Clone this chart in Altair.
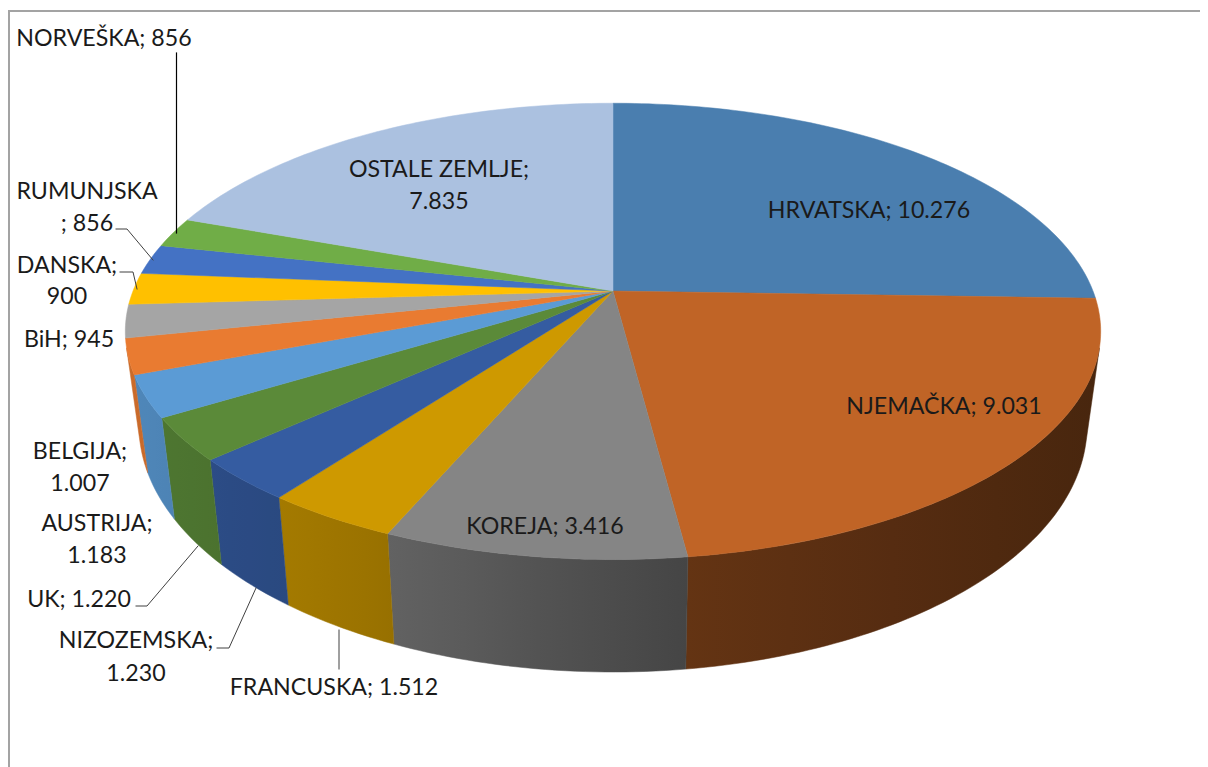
import numpy as np
import pandas as pd
import altair as alt

names = ["HRVATSKA", "NJEMAČKA", "KOREJA", "FRANCUSKA", "NIZOZEMSKA", "UK", "AUSTRIJA",
         "BELGIJA", "BiH", "DANSKA", "RUMUNJSKA", "NORVEŠKA", "OSTALE ZEMLJE"]
values = [10276, 9031, 3416, 1512, 1230, 1220, 1183, 1007, 945, 900, 856, 856, 7835]
colors = ["#4A7EAF", "#C06426", "#858585", "#CE9900", "#355CA1", "#5B8A39", "#5B9BD5",
          "#E97B31", "#A5A5A5", "#FFC000", "#4472C4", "#70AD47", "#ABC1E0"]

# one row per text line: label text and its centre on the page
label_lines = [
    "NORVEŠKA; 856", "RUMUNJSKA", "; 856", "DANSKA;", "900", "BiH; 945", "BELGIJA;", "1.007",
    "AUSTRIJA;", "1.183", "UK; 1.220", "NIZOZEMSKA;", "1.230", "FRANCUSKA; 1.512",
    "OSTALE ZEMLJE;", "7.835", "HRVATSKA; 10.276", "NJEMAČKA; 9.031", "KOREJA; 3.416",
]
label_x = [104, 87, 87, 67, 67, 69, 80, 80, 97, 97, 79, 136, 136, 334, 439, 439, 869, 944, 545]
label_y = [37, 190, 222, 264, 295, 338, 450, 482, 522, 554, 598, 639, 672, 686, 168, 200, 209, 405, 525]

W, H, OFF = 1192, 759, 8

# page geometry of the perspective disc
CX, CY, A, B, K = 613.0, 291.0, 480.0, 221.0, 0.177


def top_pt(t):
    u, v = np.sin(t), np.cos(t)
    w = 1 + K * v
    return CX + A * u / w, CY - B * v / w


def bot_pt(t):
    x, y = top_pt(t)
    return CX + 0.972 * (x - CX), 382 + 1.08 * (y - CY)


def silhouette(lo, hi, side):
    """Angle whose vertical wall edge is tangent to both rims (lies on the outline)."""
    grid = np.radians(np.arange(0, 360, 0.25))
    pts = np.array([top_pt(t) for t in grid] + [bot_pt(t) for t in grid])
    best, best_v = np.radians(lo), np.inf
    for t in np.radians(np.arange(lo, hi, 0.25)):
        p, q = np.array(top_pt(t)), np.array(bot_pt(t))
        d = q - p
        cross = d[0] * (pts[:, 1] - p[1]) - d[1] * (pts[:, 0] - p[0])
        viol = np.max(side * cross)
        if viol < best_v:
            best, best_v = t, viol
    return best


T_RIGHT = silhouette(85, 150, -1)
T_LEFT = silhouette(210, 290, 1)


def shade(color, x):
    f = float(np.interp(x, [135, 280, 388, 688, 1090], [0.87, 0.80, 0.74, 0.52, 0.38]))
    rgb = [int(color[i:i + 2], 16) for i in (1, 3, 5)]
    return "#%02x%02x%02x" % tuple(int(c * f) for c in rgb)


def feature(ring, fill=None):
    pts = [[float(x) - OFF, float(y) - OFF] for x, y in ring]
    pts.append(pts[0])
    return {"type": "Feature", "properties": {"fill": fill},
            "geometry": {"type": "Polygon", "coordinates": [pts]}}


edges = np.concatenate([[0], np.cumsum(values)]) / sum(values) * 2 * np.pi
PROJ = dict(type="identity", scale=1, translate=[0, 0])

wall_layers, tops = [], []
for i, c in enumerate(colors):
    t0, t1 = edges[i], edges[i + 1]
    ts = np.linspace(t0, t1, max(3, int((t1 - t0) / np.radians(1.0)) + 1))
    tops.append(feature([(CX, CY)] + [top_pt(t) for t in ts], c))
    w0, w1 = max(t0, T_RIGHT), min(t1, T_LEFT)
    if w1 <= w0:
        continue
    tw = np.linspace(w0, w1, max(3, int((w1 - w0) / np.radians(1.0)) + 1))
    ring = [top_pt(t) for t in tw] + [bot_pt(t) for t in tw[::-1]]
    xs_all = [p[0] for p in ring]
    x0, x1 = min(xs_all), max(xs_all)
    stops = [alt.GradientStop(offset=o, color=shade(c, x0 + o * (x1 - x0))) for o in (0, 0.25, 0.5, 0.75, 1)]
    grad = alt.LinearGradient(gradient="linear", x1=0, x2=1, y1=0, y2=0, stops=stops)
    layer = alt.Chart(alt.Data(values=[feature(ring)])).mark_geoshape(
        fill=grad, stroke=grad, strokeWidth=0.5).project(**PROJ)
    wall_layers.append(layer)

disc = alt.Chart(alt.Data(values=tops)).mark_geoshape(strokeWidth=0.5).encode(
    color=alt.Color("properties.fill:N", scale=None),
    stroke=alt.Stroke("properties.fill:N", scale=None),
).project(**PROJ)

xs = alt.Scale(domain=[0, W], range=[0, W], nice=False, zero=False)
ys = alt.Scale(domain=[0, H], range=[0, H], nice=False, zero=False)

# frame and leader lines
paths = [
    ("frame_l", "#A3A3A3", 2, [(9, 767), (9, 11)]),
    ("frame_t", "#A3A3A3", 2, [(9, 11), (1200, 11)]),
    ("nor", "#000000", 1.2, [(176.5, 53), (176.5, 233)]),
    ("rum", "#404040", 1, [(116, 229), (127, 229), (153, 260)]),
    ("dan", "#404040", 1, [(120, 272), (133, 272), (137, 289)]),
    ("uk", "#404040", 1, [(136, 606), (147, 606), (198, 546)]),
    ("niz", "#404040", 1, [(217, 648), (229, 648), (256, 588)]),
    ("fra", "#404040", 1, [(339, 630), (339, 669)]),
]
rows = []
for pid, col, sw, pts in paths:
    for j, (x, y) in enumerate(pts):
        rows.append({"id": pid, "col": col, "sw": sw, "o": j, "x": x - OFF, "y": y - OFF})
lines = alt.Chart(pd.DataFrame(rows)).mark_line(strokeCap="square").encode(
    x=alt.X("x:Q", scale=xs, axis=None),
    y=alt.Y("y:Q", scale=ys, axis=None),
    detail="id:N",
    order="o:Q",
    color=alt.Color("col:N", scale=None),
    strokeWidth=alt.StrokeWidth("sw:Q", scale=None),
)

df = pd.DataFrame({"t": label_lines,
                   "x": [v - OFF for v in label_x],
                   "y": [v - OFF for v in label_y]})
text = alt.Chart(df).mark_text(font="Lato", fontSize=23.2, dy=1.5, color="#1a1a1a", align="center",
                               baseline="middle").encode(
    x=alt.X("x:Q", scale=xs, axis=None),
    y=alt.Y("y:Q", scale=ys, axis=None),
    text="t:N",
)

chart = alt.layer(*wall_layers, disc, lines, text).resolve_scale(color="independent").properties(
    width=W, height=H, padding=0, autosize=alt.AutoSizeParams(type="none"),
).configure_view(stroke=None)

chart.save("out.html", embed_options={"renderer": "svg", "actions": False})
